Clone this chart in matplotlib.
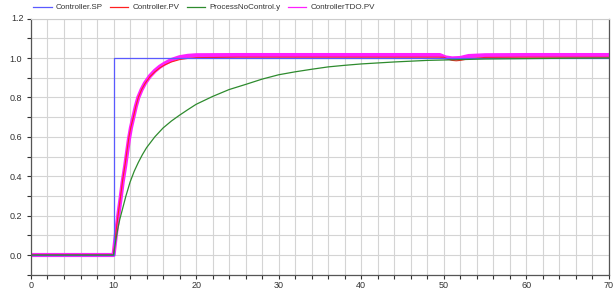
import matplotlib
matplotlib.use("Agg")
import matplotlib.pyplot as plt
from matplotlib.ticker import MultipleLocator
from matplotlib.lines import Line2D

plt.rcParams['font.family'] = ['Liberation Sans', 'DejaVu Sans']

# Setpoint
sp_t = [0, 10, 10, 70]
sp_y = [0, 0, 1.0, 1.0]

# Controller.PV
pv_t = [0, 10, 10.3, 10.6, 10.86, 11.1, 11.4, 11.6, 11.87, 12.1, 12.4, 12.7, 13.0, 13.4, 13.8, 14.4, 15.0, 15.6, 16.2, 17, 18, 19, 20, 25, 30, 35, 40, 45, 50, 50.5, 51, 51.5, 52, 53, 55, 60, 65, 70]
pv_y = [0, 0, 0.12, 0.22, 0.30, 0.38, 0.46, 0.52, 0.60, 0.65, 0.70, 0.755, 0.80, 0.84, 0.87, 0.905, 0.93, 0.95, 0.965, 0.98, 0.992, 0.998, 1.002, 1.004, 1.004, 1.004, 1.004, 1.004, 1.004, 0.995, 0.988, 0.986, 0.988, 0.996, 1.003, 1.004, 1.004, 1.004]

# ProcessNoControl.y
pn_t = [0, 10, 10.25, 10.5, 10.75, 11, 11.5, 12, 12.5, 13, 13.5, 14, 15, 16, 17, 18, 19, 20, 22, 24, 26, 28, 30, 32, 34, 36, 38, 40, 42, 44, 46, 48, 50, 55, 60, 65, 70]
pn_y = [0, 0, 0.07, 0.13, 0.18, 0.22, 0.30, 0.37, 0.425, 0.47, 0.51, 0.545, 0.60, 0.645, 0.68, 0.71, 0.738, 0.765, 0.805, 0.84, 0.866, 0.893, 0.915, 0.93, 0.943, 0.955, 0.963, 0.97, 0.975, 0.98, 0.984, 0.988, 0.99, 0.995, 0.997, 0.999, 1.0]

# ControllerTDO.PV
tdo_t = [0, 10, 10.3, 10.6, 10.86, 11.1, 11.4, 11.6, 11.87, 12.1, 12.4, 12.7, 13.0, 13.4, 13.8, 14.4, 15.0, 15.6, 16.2, 17, 18, 19, 20, 25, 30, 35, 40, 45, 49.5, 50.2, 51, 52, 53, 55, 60, 65, 70]
tdo_y = [0, 0, 0.11, 0.21, 0.29, 0.37, 0.45, 0.51, 0.59, 0.645, 0.70, 0.755, 0.80, 0.84, 0.872, 0.908, 0.935, 0.956, 0.972, 0.99, 1.004, 1.011, 1.014, 1.015, 1.015, 1.015, 1.015, 1.015, 1.015, 1.003, 0.998, 1.0, 1.01, 1.014, 1.015, 1.015, 1.015]

labels = ["Controller.SP", "Controller.PV", "ProcessNoControl.y", "ControllerTDO.PV"]
colors = ["#5a5aff", "#ff2020", "#2e8b2e", "#ff20ff"]

fig = plt.figure(figsize=(6.16, 2.91), dpi=100)
ax = fig.add_axes([0.0503, 0.056, 0.9383, 0.880])

ax.plot(sp_t, sp_y, color=colors[0], lw=0.9)
ax.plot(pn_t, pn_y, color=colors[2], lw=0.9)
ax.plot(tdo_t, tdo_y, color=colors[3], lw=3.0, zorder=1.5, solid_joinstyle="round")
ax.plot(pv_t, pv_y, color=colors[1], lw=0.8, zorder=1.6)

ax.set_xlim(0, 70)
ax.set_ylim(-0.1, 1.2)
ax.xaxis.set_major_locator(MultipleLocator(10))
ax.xaxis.set_minor_locator(MultipleLocator(2))
ax.yaxis.set_minor_locator(MultipleLocator(0.1))
ax.set_yticks([0.0, 0.2, 0.4, 0.6, 0.8, 1.0])
ax.set_yticklabels(["0.0", "0.2", "0.4", "0.6", "0.8", "1.0"])
ax.grid(which="both", color="#d4d4d4", lw=0.8)
ax.set_axisbelow(True)
ax.tick_params(which="both", direction="out", labelsize=6.5, colors="#333333", length=3, width=0.8)
ax.tick_params(axis="x", pad=1.5)
for s in ["left", "bottom", "right"]:
    ax.spines[s].set_color("#555555")
    ax.spines[s].set_linewidth(0.9)
ax.spines["top"].set_color("#cccccc")

# label for 1.2 at top
ax.text(-0.012, 1.0, "1.2", transform=ax.transAxes, ha="right", va="center", fontsize=6.5, color="#333333")

handles = [Line2D([], [], color=c, lw=0.9) for c in colors]
fig.legend(handles, labels, loc="upper left", bbox_to_anchor=(0.042, 1.012), ncol=4, frameon=False,
           fontsize=5.8, handlelength=2.3, columnspacing=0.9, handletextpad=0.5,
           labelcolor="#333333")

fig.savefig("out.png", dpi=100)
